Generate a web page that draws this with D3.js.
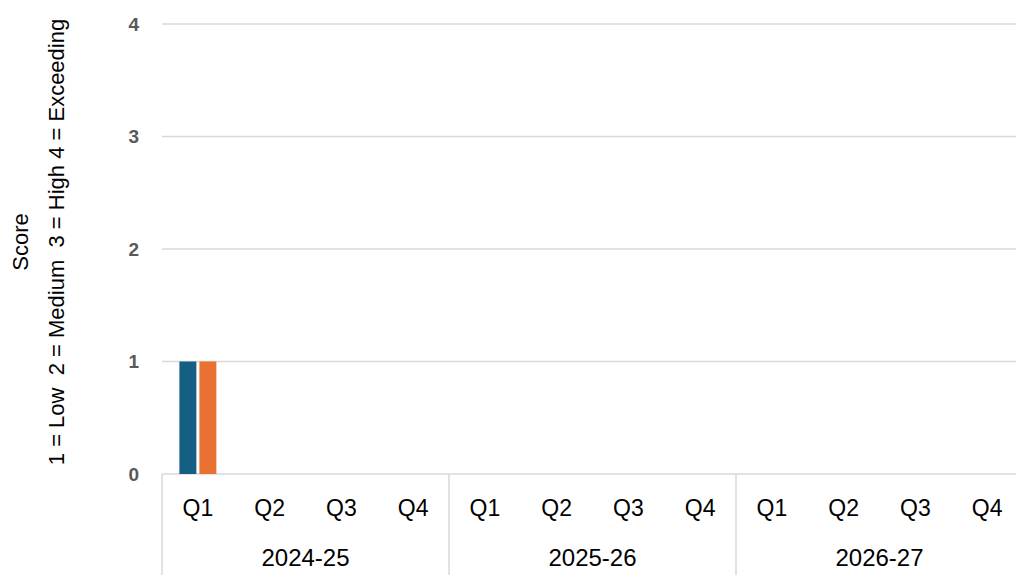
<!DOCTYPE html>
<html>
<head>
<meta charset="utf-8">
<script src="https://cdn.jsdelivr.net/npm/d3@7"></script>
<style>
  body { margin: 0; background: #fff; }
  text { font-family: "Liberation Sans", Arial, sans-serif; }
</style>
</head>
<body>
<div id="chart"></div>
<script>
// data
const years = ["2024-25", "2025-26", "2026-27"];
const quarters = ["Q1", "Q2", "Q3", "Q4"];
const seriesNames = ["Series 1", "Series 2"];
const seriesA = [1, null, null, null, null, null, null, null, null, null, null, null];
const seriesB = [1, null, null, null, null, null, null, null, null, null, null, null];
const yTicks = [0, 1, 2, 3, 4];
const colors = ["#156082", "#e97132"];

const width = 1016, height = 575;
const margin = { top: 24, right: -7, bottom: 101, left: 162 };

const svg = d3.select("#chart")
  .append("svg")
  .attr("width", width)
  .attr("height", height);

// build category list (year + quarter)
const cats = [];
years.forEach(function (y) {
  quarters.forEach(function (q) { cats.push({ year: y, q: q, key: y + "|" + q }); });
});

const x = d3.scaleBand()
  .domain(cats.map(d => d.key))
  .range([margin.left, width - margin.right]);

const xInner = d3.scaleBand()
  .domain(seriesNames)
  .range([0, x.bandwidth()])
  .paddingInner(0.15)
  .paddingOuter(0.87);

const y = d3.scaleLinear()
  .domain([0, 4])
  .range([height - margin.bottom, margin.top]);

// gridlines
svg.append("g")
  .selectAll("line")
  .data(yTicks)
  .enter().append("line")
  .attr("x1", margin.left)
  .attr("x2", width)
  .attr("y1", d => y(d))
  .attr("y2", d => y(d))
  .attr("stroke", "#d9d9d9")
  .attr("stroke-width", 1.5);

// y tick labels
svg.append("g")
  .selectAll("text")
  .data(yTicks)
  .enter().append("text")
  .attr("x", 139)
  .attr("y", d => y(d))
  .attr("dy", "0.35em")
  .attr("text-anchor", "end")
  .attr("font-size", 19)
  .attr("font-weight", "bold")
  .attr("fill", "#595959")
  .text(d => d);

// bars
const rows = cats.map(function (c, i) {
  return { key: c.key, values: [seriesA[i], seriesB[i]] };
});
const groups = svg.append("g")
  .selectAll("g")
  .data(rows)
  .enter().append("g")
  .attr("transform", d => `translate(${x(d.key)},0)`);

groups.selectAll("rect")
  .data(d => d.values.map((v, j) => ({ name: seriesNames[j], value: v, j: j })).filter(e => e.value != null))
  .enter().append("rect")
  .attr("x", d => xInner(d.name))
  .attr("width", xInner.bandwidth())
  .attr("y", d => y(d.value))
  .attr("height", d => y(0) - y(d.value))
  .attr("fill", d => colors[d.j]);

// quarter labels
svg.append("g")
  .selectAll("text")
  .data(cats)
  .enter().append("text")
  .attr("x", d => x(d.key) + x.bandwidth() / 2)
  .attr("y", 508)
  .attr("dy", "0.35em")
  .attr("text-anchor", "middle")
  .attr("font-size", 23)
  .attr("fill", "#000")
  .text(d => d.q);

// year labels and dividers
const yearStart = y0 => x(y0 + "|Q1");
svg.append("g")
  .selectAll("text")
  .data(years)
  .enter().append("text")
  .attr("x", d => yearStart(d) + x.bandwidth() * 2)
  .attr("y", 558)
  .attr("dy", "0.35em")
  .attr("text-anchor", "middle")
  .attr("font-size", 24)
  .attr("fill", "#000")
  .text(d => d);

const dividers = years.map(yearStart).concat([x(years[years.length - 1] + "|Q4") + x.bandwidth()]);
svg.append("g")
  .selectAll("line")
  .data(dividers)
  .enter().append("line")
  .attr("x1", d => d)
  .attr("x2", d => d)
  .attr("y1", y(0))
  .attr("y2", height)
  .attr("stroke", "#d9d9d9")
  .attr("stroke-width", 1.5);

// y axis title
const title = svg.append("text")
  .attr("transform", "translate(0,242) rotate(-90)")
  .attr("text-anchor", "middle")
  .attr("font-size", 22)
  .attr("fill", "#000")
  .style("white-space", "pre");
title.append("tspan").attr("x", 0).attr("y", 28).text("Score");
title.append("tspan").attr("x", 0).attr("y", 64).text("1 = Low  2 = Medium  3 = High 4 = Exceeding");
</script>
</body>
</html>
